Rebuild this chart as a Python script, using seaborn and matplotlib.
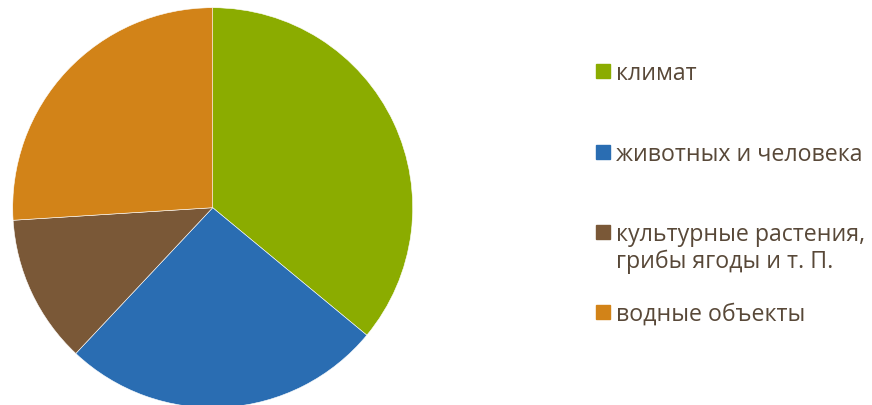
import matplotlib
matplotlib.use("Agg")
import matplotlib.pyplot as plt
from matplotlib.patches import Rectangle
import seaborn as sns

# shares (percent), clockwise from 12 o'clock
labels = ["климат", "животных и человека", "культурные растения,\nгрибы ягоды и т. П.", "водные объекты"]
values = [36, 26, 12, 26]
colors = ["#8BAC00", "#2A6DB2", "#7A5837", "#D28318"]

sns.set_theme(style="white")
plt.rcParams["font.family"] = ["Open Sans", "DejaVu Sans"]

fig = plt.figure(figsize=(8.72, 4.06), dpi=100)
W, H = 872, 406

# pie axes: centre ~(212.7, 208.7) px, radius ~200 px
ax = fig.add_axes([12.7 / W, (H - 208.7 - 200) / H, 400 / W, 400 / H])
ax.pie(values, colors=colors, startangle=90, counterclock=False,
       wedgeprops=dict(edgecolor="white", linewidth=0.4))
ax.set_xlim(-1, 1)
ax.set_ylim(-1, 1)
ax.set_aspect("equal")
ax.axis("off")

# legend drawn by hand: marker rows at fixed steps, labels may wrap
text_col = "#584838"
row_y = [72, 153, 233, 313]
for lab, col, y in zip(labels, colors, row_y):
    fig.patches.append(Rectangle((596 / W, 1 - (y + 7) / H), 14 / W, 14 / H,
                                 transform=fig.transFigure, color=col, figure=fig))
    fig.text(616 / W, 1 - (y - 10) / H, lab, fontsize=16.7, color=text_col,
             va="top", ha="left", linespacing=1.15)

fig.savefig("out.png", dpi=100)
